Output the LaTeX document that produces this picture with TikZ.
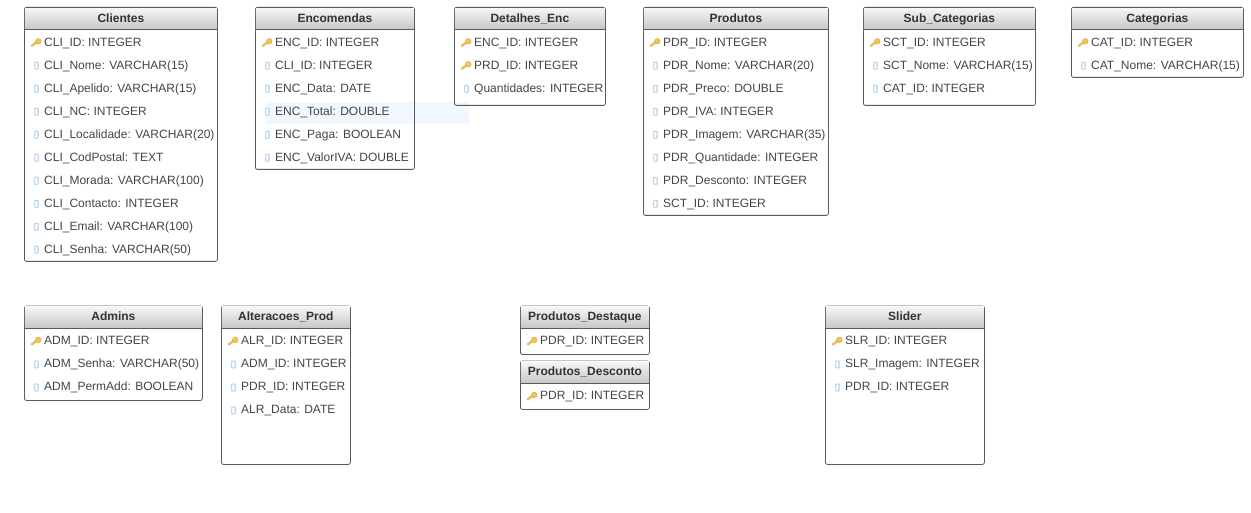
\documentclass[tikz,border=0pt]{standalone}
\usepackage{fontspec}
\setmainfont{Liberation Sans}
\usetikzlibrary{calc,positioning}
\definecolor{boxline}{HTML}{5A5A5A}
\definecolor{headtop}{HTML}{F6F6F6}
\definecolor{headbottom}{HTML}{C6C6C6}
\definecolor{rowtextgray}{HTML}{444444}
\definecolor{headtext}{HTML}{333333}
\definecolor{keygold}{HTML}{F2C65A}
\definecolor{keyedge}{HTML}{DDA93A}
\definecolor{fieldblue}{HTML}{9CC4E8}
\definecolor{bandblue}{HTML}{F0F7FE}

\begin{document}
\begin{tikzpicture}[
  x=1pt, y=-1pt,
  tablebox/.style={rectangle, draw=boxline, line width=0.8pt, rounded corners=2pt, anchor=north west, inner sep=0pt},
  tablehead/.style={rectangle, anchor=north, inner sep=0pt, minimum height=21.5pt, text height=9pt, text depth=2.5pt, top color=headtop, bottom color=headbottom, text=headtext, font=\fontsize{12}{14}\selectfont\bfseries,
    path picture={\draw[boxline, line width=1.2pt] (path picture bounding box.south west) -- (path picture bounding box.south east);}},
  rowtext/.style={anchor=west, inner sep=0pt, text height=9pt, text depth=2.5pt, text=rowtextgray, font=\fontsize{12}{14}\selectfont},
  keyicon/.style={inner sep=0pt, text height=0pt, text depth=0pt, minimum width=12pt, minimum height=11pt, xshift=-2pt,
    path picture={
      \coordinate (kc) at (path picture bounding box.center);
      \draw[keyedge, line width=2.2pt, line cap=round] ($(kc)+(-4,3)$) -- ($(kc)+(1.5,-1)$);
      \draw[keygold, line width=1.2pt, line cap=round] ($(kc)+(-4,3)$) -- ($(kc)+(1.5,-1)$);
      \fill[keygold, draw=keyedge, line width=0.5pt] ($(kc)+(2.5,-1.5)$) circle (2.8pt);}},
  fieldicon/.style={rectangle, draw=fieldblue, fill=white, line width=0.8pt, inner sep=0pt, text height=0pt, text depth=0pt, minimum width=3.4pt, minimum height=7pt, rounded corners=0.5pt, xshift=-5.5pt},
  keyrow/.style={rowtext, label={[keyicon]left:{}}},
  fieldrow/.style={rowtext, label={[fieldicon]left:{}}}
]
  \useasboundingbox (0,0) rectangle (1251,513);
  \fill[bandblue] (266,102) rectangle (469,124);

  % top row of tables
  \node[tablebox, minimum width=193pt, minimum height=254pt] (clientes) at (24,7) {};
  \node[tablehead, minimum width=192pt] (clientesHead) at ($(clientes.north)+(0,0.9)$) {Clientes};
  \foreach \i/\kind/\rowname in {0/keyrow/CLI\_ID: INTEGER, 1/fieldrow/CLI\_Nome: VARCHAR(15), 2/fieldrow/CLI\_Apelido: VARCHAR(15), 3/fieldrow/CLI\_NC: INTEGER, 4/fieldrow/CLI\_Localidade: VARCHAR(20), 5/fieldrow/CLI\_CodPostal: TEXT, 6/fieldrow/CLI\_Morada: VARCHAR(100), 7/fieldrow/CLI\_Contacto: INTEGER, 8/fieldrow/CLI\_Email: VARCHAR(100), 9/fieldrow/CLI\_Senha: VARCHAR(50)}
    \node[\kind] (cli\i) at ($(clientes.north west)+(20,35.8+23*\i)$) {\rowname};

  \node[tablebox, minimum width=159pt, minimum height=162pt] (encomendas) at (255,7) {};
  \node[tablehead, minimum width=158pt] (encomendasHead) at ($(encomendas.north)+(0,0.9)$) {Encomendas};
  \foreach \i/\kind/\rowname in {0/keyrow/ENC\_ID: INTEGER, 1/fieldrow/CLI\_ID: INTEGER, 2/fieldrow/ENC\_Data: DATE, 3/fieldrow/ENC\_Total: DOUBLE, 4/fieldrow/ENC\_Paga: BOOLEAN, 5/fieldrow/ENC\_ValorIVA: DOUBLE}
    \node[\kind] (enc\i) at ($(encomendas.north west)+(20,35.8+23*\i)$) {\rowname};

  \node[tablebox, minimum width=151pt, minimum height=98pt] (detalhes) at (454,7) {};
  \node[tablehead, minimum width=150pt] (detalhesHead) at ($(detalhes.north)+(0,0.9)$) {Detalhes\_Enc};
  \foreach \i/\kind/\rowname in {0/keyrow/ENC\_ID: INTEGER, 1/keyrow/PRD\_ID: INTEGER, 2/fieldrow/Quantidades: INTEGER}
    \node[\kind] (det\i) at ($(detalhes.north west)+(20,35.8+23*\i)$) {\rowname};

  \node[tablebox, minimum width=185pt, minimum height=208pt] (produtos) at (643,7) {};
  \node[tablehead, minimum width=184pt] (produtosHead) at ($(produtos.north)+(0,0.9)$) {Produtos};
  \foreach \i/\kind/\rowname in {0/keyrow/PDR\_ID: INTEGER, 1/fieldrow/PDR\_Nome: VARCHAR(20), 2/fieldrow/PDR\_Preco: DOUBLE, 3/fieldrow/PDR\_IVA: INTEGER, 4/fieldrow/PDR\_Imagem: VARCHAR(35), 5/fieldrow/PDR\_Quantidade: INTEGER, 6/fieldrow/PDR\_Desconto: INTEGER, 7/fieldrow/SCT\_ID: INTEGER}
    \node[\kind] (pdr\i) at ($(produtos.north west)+(20,35.8+23*\i)$) {\rowname};

  \node[tablebox, minimum width=172pt, minimum height=98pt] (subcategorias) at (863,7) {};
  \node[tablehead, minimum width=171pt] (subcategoriasHead) at ($(subcategorias.north)+(0,0.9)$) {Sub\_Categorias};
  \foreach \i/\kind/\rowname in {0/keyrow/SCT\_ID: INTEGER, 1/fieldrow/SCT\_Nome: VARCHAR(15), 2/fieldrow/CAT\_ID: INTEGER}
    \node[\kind] (sct\i) at ($(subcategorias.north west)+(20,35.8+23*\i)$) {\rowname};

  \node[tablebox, minimum width=172pt, minimum height=70pt] (categorias) at (1071,7) {};
  \node[tablehead, minimum width=171pt] (categoriasHead) at ($(categorias.north)+(0,0.9)$) {Categorias};
  \foreach \i/\kind/\rowname in {0/keyrow/CAT\_ID: INTEGER, 1/fieldrow/CAT\_Nome: VARCHAR(15)}
    \node[\kind] (cat\i) at ($(categorias.north west)+(20,35.8+23*\i)$) {\rowname};

  % bottom row of tables
  \node[tablebox, minimum width=178pt, minimum height=94.4pt] (admins) at (24,305.6) {};
  \node[tablehead, minimum width=177pt] (adminsHead) at ($(admins.north)+(0,0.9)$) {Admins};
  \foreach \i/\kind/\rowname in {0/keyrow/ADM\_ID: INTEGER, 1/fieldrow/ADM\_Senha: VARCHAR(50), 2/fieldrow/ADM\_PermAdd: BOOLEAN}
    \node[\kind] (adm\i) at ($(admins.north west)+(20,35.8+23*\i)$) {\rowname};

  \node[tablebox, minimum width=129pt, minimum height=158.4pt] (alteracoes) at (221,305.6) {};
  \node[tablehead, minimum width=128pt] (alteracoesHead) at ($(alteracoes.north)+(0,0.9)$) {Alteracoes\_Prod};
  \foreach \i/\kind/\rowname in {0/keyrow/ALR\_ID: INTEGER, 1/fieldrow/ADM\_ID: INTEGER, 2/fieldrow/PDR\_ID: INTEGER, 3/fieldrow/ALR\_Data: DATE}
    \node[\kind] (alr\i) at ($(alteracoes.north west)+(20,35.8+23*\i)$) {\rowname};

  \node[tablebox, minimum width=129pt, minimum height=48.4pt] (destaque) at (520,305.6) {};
  \node[tablehead, minimum width=128pt] (destaqueHead) at ($(destaque.north)+(0,0.9)$) {Produtos\_Destaque};
  \node[keyrow] (dst0) at ($(destaque.north west)+(20,35.8)$) {PDR\_ID: INTEGER};

  \node[tablebox, minimum width=129pt, minimum height=48.4pt] (desconto) at (520,360.6) {};
  \node[tablehead, minimum width=128pt] (descontoHead) at ($(desconto.north)+(0,0.9)$) {Produtos\_Desconto};
  \node[keyrow] (dsc0) at ($(desconto.north west)+(20,35.8)$) {PDR\_ID: INTEGER};

  \node[tablebox, minimum width=159pt, minimum height=158.4pt] (slider) at (825,305.6) {};
  \node[tablehead, minimum width=158pt] (sliderHead) at ($(slider.north)+(0,0.9)$) {Slider};
  \foreach \i/\kind/\rowname in {0/keyrow/SLR\_ID: INTEGER, 1/fieldrow/SLR\_Imagem: INTEGER, 2/fieldrow/PDR\_ID: INTEGER}
    \node[\kind] (slr\i) at ($(slider.north west)+(20,35.8+23*\i)$) {\rowname};
\end{tikzpicture}
\end{document}
